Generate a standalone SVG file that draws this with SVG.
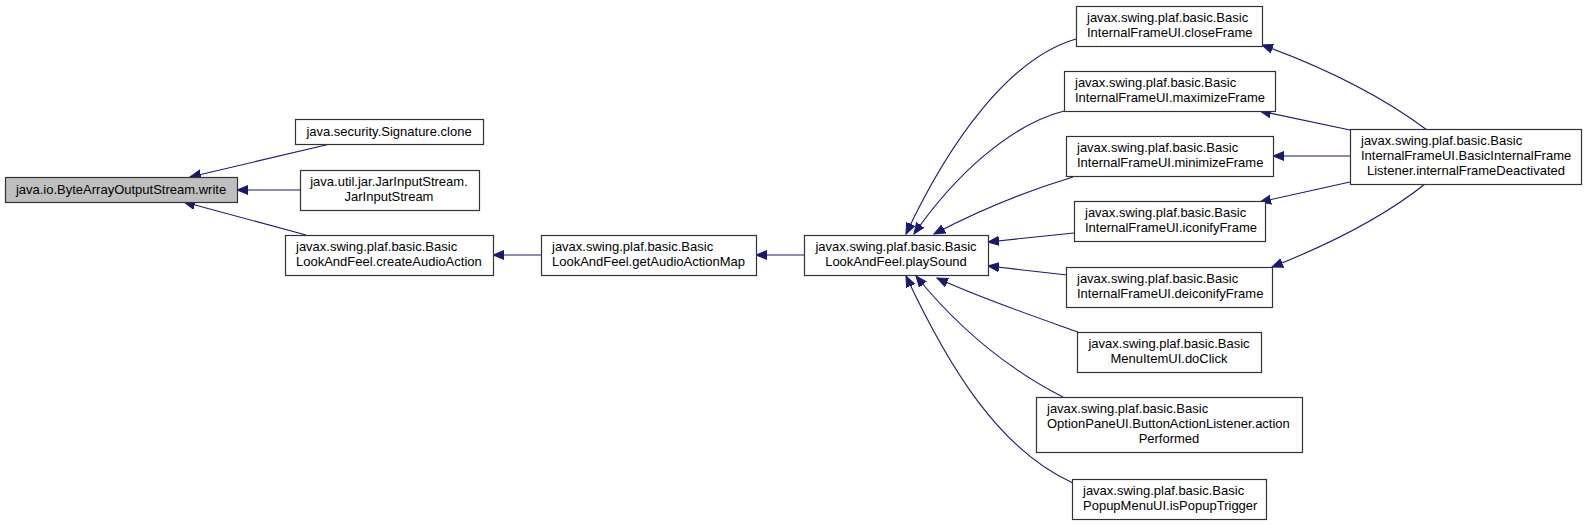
<svg xmlns="http://www.w3.org/2000/svg" width="1585" height="525" viewBox="0 0 1585 525">
<style>
.n rect{fill:#ffffff;stroke:#333333;stroke-width:1.2}
.n text{font-family:"Liberation Sans",Arial,sans-serif;font-size:13px;fill:#000000}
.c{text-anchor:middle}
.e path{fill:none;stroke:#191970;stroke-width:1.1;marker-end:url(#ah)}
</style>
<defs>
<marker id="ah" markerUnits="userSpaceOnUse" markerWidth="14" markerHeight="11" refX="11" refY="5" orient="auto">
<path d="M0,0.5 L11,5 L0,9.5 z" fill="#191970" stroke="#191970" stroke-width="1"/>
</marker>
</defs>
<rect width="1585" height="525" fill="#ffffff"/>
<g id="edges" class="e">
<path d="M330,144 L190,177"/>
<path d="M300,190 L237,190"/>
<path d="M306,235 L184,202"/>
<path d="M541,255 L493,255"/>
<path d="M804,255 L756,255"/>
<path d="M1076,39 C1010,58 950,140 906,234"/>
<path d="M1064,111 C1010,125 955,175 914,234"/>
<path d="M1073,177 C1030,190 980,210 934,234"/>
<path d="M1074,233 L988,242"/>
<path d="M1067,275 L988,266"/>
<path d="M1078,332 C1030,315 980,298 937,278"/>
<path d="M1063,397 C1010,370 960,330 916,276"/>
<path d="M1073,483 C1000,450 950,370 906,276"/>
<path d="M1427,130 C1380,95 1320,66 1262,45"/>
<path d="M1350,130 L1260,111"/>
<path d="M1350,156 L1273,156"/>
<path d="M1350,182 L1260,202"/>
<path d="M1425,184 C1380,220 1320,248 1272,267"/>
</g>
<g id="n_write" class="n"><rect x="5.5" y="177.5" width="232" height="25" style="fill:#bfbfbf"/><text x="121" y="194" class="c">java.io.ByteArrayOutputStream.write</text></g>
<g id="n_clone" class="n"><rect x="295.5" y="119.5" width="188" height="25"/><text x="389" y="136" class="c">java.security.Signature.clone</text></g>
<g id="n_jar" class="n"><rect x="300.5" y="170.5" width="179" height="40"/><text x="389" y="186" class="c">java.util.jar.JarInputStream.</text><text x="389" y="201" class="c">JarInputStream</text></g>
<g id="n_createAudio" class="n"><rect x="285.5" y="235.5" width="208" height="40"/><text x="296" y="251">javax.swing.plaf.basic.Basic</text><text x="296" y="266">LookAndFeel.createAudioAction</text></g>
<g id="n_getAudioMap" class="n"><rect x="541.5" y="235.5" width="215" height="40"/><text x="552" y="251">javax.swing.plaf.basic.Basic</text><text x="552" y="266">LookAndFeel.getAudioActionMap</text></g>
<g id="n_playSound" class="n"><rect x="804.5" y="235.5" width="184" height="40"/><text x="896" y="251" class="c">javax.swing.plaf.basic.Basic</text><text x="896" y="266" class="c">LookAndFeel.playSound</text></g>
<g id="n_close" class="n"><rect x="1076.5" y="6.5" width="186" height="40"/><text x="1087" y="22">javax.swing.plaf.basic.Basic</text><text x="1087" y="37">InternalFrameUI.closeFrame</text></g>
<g id="n_maximize" class="n"><rect x="1064.5" y="71.5" width="211" height="40"/><text x="1075" y="87">javax.swing.plaf.basic.Basic</text><text x="1075" y="102">InternalFrameUI.maximizeFrame</text></g>
<g id="n_minimize" class="n"><rect x="1066.5" y="136.5" width="207" height="40"/><text x="1077" y="152">javax.swing.plaf.basic.Basic</text><text x="1077" y="167">InternalFrameUI.minimizeFrame</text></g>
<g id="n_iconify" class="n"><rect x="1074.5" y="201.5" width="191" height="40"/><text x="1085" y="217">javax.swing.plaf.basic.Basic</text><text x="1085" y="232">InternalFrameUI.iconifyFrame</text></g>
<g id="n_deiconify" class="n"><rect x="1066.5" y="267.5" width="206" height="40"/><text x="1077" y="283">javax.swing.plaf.basic.Basic</text><text x="1077" y="298">InternalFrameUI.deiconifyFrame</text></g>
<g id="n_doClick" class="n"><rect x="1077.5" y="332.5" width="184" height="40"/><text x="1169" y="348" class="c">javax.swing.plaf.basic.Basic</text><text x="1169" y="363" class="c">MenuItemUI.doClick</text></g>
<g id="n_optionPane" class="n"><rect x="1036.5" y="397.5" width="266" height="55"/><text x="1047" y="413">javax.swing.plaf.basic.Basic</text><text x="1047" y="428">OptionPaneUI.ButtonActionListener.action</text><text x="1169" y="443" class="c">Performed</text></g>
<g id="n_popup" class="n"><rect x="1072.5" y="479.5" width="194" height="40"/><text x="1083" y="495">javax.swing.plaf.basic.Basic</text><text x="1083" y="510">PopupMenuUI.isPopupTrigger</text></g>
<g id="n_deactivated" class="n"><rect x="1350.5" y="129.5" width="231" height="55"/><text x="1361" y="145">javax.swing.plaf.basic.Basic</text><text x="1361" y="160">InternalFrameUI.BasicInternalFrame</text><text x="1466" y="175" class="c">Listener.internalFrameDeactivated</text></g>
</svg>
